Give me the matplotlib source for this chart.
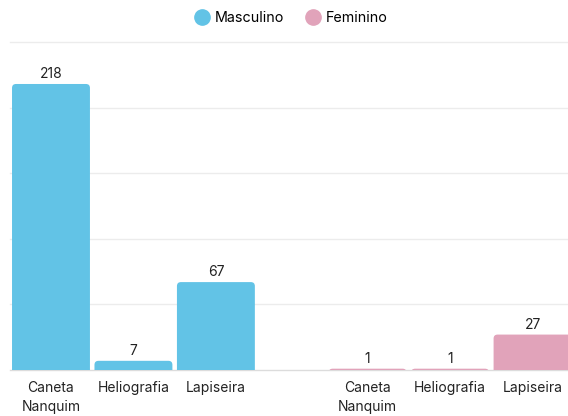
import matplotlib
matplotlib.use("Agg")
import matplotlib.pyplot as plt
from matplotlib.patches import FancyBboxPatch
from matplotlib.lines import Line2D

categories = ["Caneta\nNanquim", "Heliografia", "Lapiseira"]
masculino = [218, 7, 67]
feminino = [1, 1, 27]
series_names = ["Masculino", "Feminino"]
colors = ["#62c3e6", "#e1a3ba"]

plt.rcParams['font.family'] = ['Inter', 'DejaVu Sans']

W, H = 568, 416
fig = plt.figure(figsize=(W / 100, H / 100), dpi=100)
left_px, right_px, base_px, top_px = 10, 568, 370, 42
ax = fig.add_axes([left_px / W, (H - base_px) / H, (right_px - left_px) / W, (base_px - top_px) / H])

group_gap = 1.84
bar_w = 0.945
xmin, xmax = -0.497, 6.27
ymax = 250
ax.set_xlim(xmin, xmax)
ax.set_ylim(0, ymax)

px_x = (right_px - left_px) / (xmax - xmin)
px_y = (base_px - top_px) / ymax

for ys in [50, 100, 150, 200, 250]:
    ax.axhline(ys, color="#ececec", lw=1, zorder=0, clip_on=False)
ax.axhline(0, color="#dcdcdc", lw=1, zorder=0.5, clip_on=False)

positions_all = []
labels_all = []
for g, (vals, col) in enumerate(zip([masculino, feminino], colors)):
    offset = g * (len(categories) - 1 + group_gap)
    for i, v in enumerate(vals):
        x = i + offset
        positions_all.append(x)
        labels_all.append(categories[i])
        r_px = 4.0
        r = r_px / px_x
        aspect = (1 / px_y) / (1 / px_x)
        ext = r_px / px_y
        p = FancyBboxPatch((x - bar_w / 2, -ext), bar_w, v + ext,
                           boxstyle=f"round,pad=0,rounding_size={r}",
                           mutation_aspect=aspect, fc=col, ec="none", zorder=2)
        ax.add_patch(p)
        ax.text(x, v + 3 / px_y, str(v), ha="center", va="bottom",
                fontsize=10, color="#222222", zorder=3)

ax.set_xticks(positions_all)
ax.set_xticklabels(labels_all, fontsize=10, color="#222222", linespacing=1.4)
ax.tick_params(axis="x", length=0, pad=8)
ax.set_yticks([])
for s in ax.spines.values():
    s.set_visible(False)

handles = [Line2D([], [], marker="o", ls="none", markersize=11, color=c) for c in colors]
fig.legend(handles, series_names, loc="center", bbox_to_anchor=(291 / W, 1 - 18 / H),
           ncol=2, frameon=False, fontsize=10.3, handletextpad=0.4, columnspacing=1.5,
           handlelength=1.0)

fig.savefig("out.png", dpi=100, facecolor="white")
